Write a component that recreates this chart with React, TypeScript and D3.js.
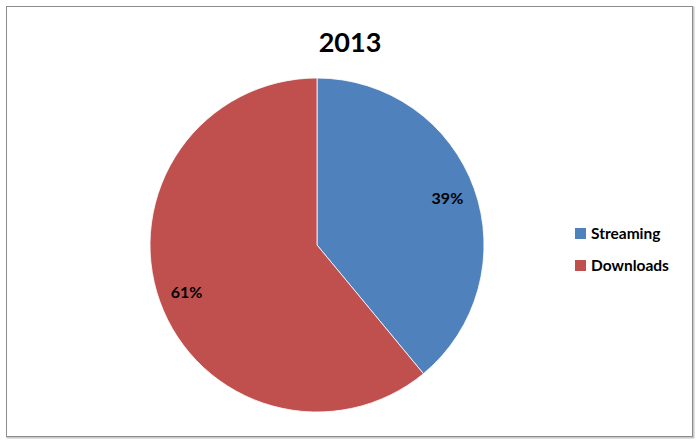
import { useEffect, useRef } from 'react';
import * as d3 from 'd3';

const TITLE = '2013';
const categories = ['Streaming', 'Downloads'];
const shares = [39, 61];
const colors = ['#4F81BD', '#C0504D'];

const W = 700, H = 445;
const FONT = 'Lato, "Open Sans", sans-serif';

export default function App() {
  const svgRef = useRef<SVGSVGElement>(null);

  useEffect(() => {
    if (!svgRef.current) return;
    const svg = d3.select(svgRef.current);
    svg.selectAll('*').remove();

    // chart border with a faint shadow
    svg.append('rect')
      .attr('x', 7.5).attr('y', 7.5).attr('width', 686).attr('height', 430)
      .attr('fill', 'none').attr('stroke', '#c8c8c8').attr('stroke-width', 2);
    svg.append('rect')
      .attr('x', 6.5).attr('y', 6.5).attr('width', 686).attr('height', 430)
      .attr('fill', '#fff').attr('stroke', '#8c8c8c').attr('stroke-width', 1);

    svg.append('text')
      .attr('x', 350).attr('y', 52)
      .attr('text-anchor', 'middle')
      .attr('font-family', FONT).attr('font-weight', 700).attr('font-size', 27)
      .attr('fill', '#000')
      .text(TITLE);

    const cx = 317, cy = 245, R = 167;
    const data = categories.map((c, i) => ({ name: c, value: shares[i], color: colors[i] }));
    const pie = d3.pie<typeof data[number]>().value((d) => d.value).sort(null);
    const arc = d3.arc<d3.PieArcDatum<typeof data[number]>>().innerRadius(0).outerRadius(R);
    const labelArc = d3.arc<d3.PieArcDatum<typeof data[number]>>().innerRadius(R * 0.83).outerRadius(R * 0.83);
    const arcs = pie(data);

    const g = svg.append('g').attr('transform', `translate(${cx},${cy})`);
    g.selectAll('path').data(arcs).join('path')
      .attr('d', arc)
      .attr('fill', (d) => d.data.color)
      .attr('stroke', '#fff').attr('stroke-width', 0.8);

    g.selectAll('text').data(arcs).join('text')
      .attr('transform', (d) => `translate(${labelArc.centroid(d)})`)
      .attr('text-anchor', 'middle').attr('dy', '0.35em')
      .attr('font-family', FONT).attr('font-weight', 700).attr('font-size', 16)
      .attr('fill', '#000')
      .text((d) => `${d.data.value}%`);

    // legend
    const legend = svg.append('g').attr('transform', 'translate(575,228)');
    const rows = legend.selectAll('g').data(data).join('g')
      .attr('transform', (_, i) => `translate(0,${i * 32})`);
    rows.append('rect').attr('width', 11).attr('height', 11).attr('fill', (d) => d.color);
    rows.append('text')
      .attr('x', 16).attr('y', 6).attr('dy', '0.35em')
      .attr('font-family', FONT).attr('font-weight', 700).attr('font-size', 15.5)
      .attr('fill', '#000')
      .text((d) => d.name);
  }, []);

  return (
    <div style={{ position: 'fixed', left: 0, top: 0 }}>
      <svg ref={svgRef} width={W} height={H} viewBox={`0 0 ${W} ${H}`} style={{ display: 'block' }} />
    </div>
  );
}
